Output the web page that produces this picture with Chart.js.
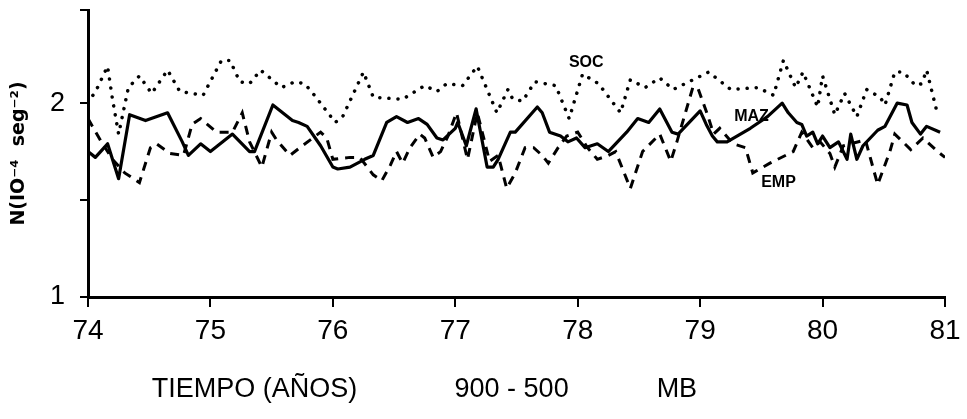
<!DOCTYPE html>
<html>
<head>
<meta charset="utf-8">
<script src="https://cdn.jsdelivr.net/npm/chart.js@4/dist/chart.umd.min.js"></script>
<style>
  body { margin: 0; background: #fff; }
  canvas { display: block; }
</style>
</head>
<body>
<canvas id="chart" width="967" height="419"></canvas>
<script>
'use strict'

// N (10^-4 seg^-2), 900-500 mb
// SOC (dotted)
let socT = [74.00, 74.07, 74.16, 74.20, 74.25, 74.33, 74.42, 74.52, 74.65, 74.75, 74.94, 75.09, 75.16, 75.24, 75.32, 75.41, 75.58, 75.69, 75.77, 75.85, 76.02, 76.08, 76.25, 76.33, 76.57, 76.75, 76.85, 76.93, 77.06, 77.18, 77.34, 77.43, 77.47, 77.55, 77.65, 77.82, 77.93, 78.04, 78.17, 78.35, 78.43, 78.55, 78.67, 78.78, 79.07, 79.25, 79.47, 79.60, 79.68, 79.78, 79.84, 79.96, 80.00, 80.10, 80.18, 80.28, 80.36, 80.47, 80.51, 80.59, 80.66, 80.76, 80.81, 80.85, 80.94];
let socN = [2.00, 2.07, 2.19, 2.02, 1.84, 2.08, 2.14, 2.05, 2.17, 2.06, 2.04, 2.22, 2.22, 2.11, 2.10, 2.17, 2.08, 2.11, 2.10, 2.04, 1.90, 1.93, 2.16, 2.03, 2.02, 2.09, 2.06, 2.10, 2.09, 2.19, 1.95, 2.07, 2.02, 2.01, 2.11, 2.09, 1.92, 2.15, 2.10, 1.95, 2.12, 2.08, 2.13, 2.07, 2.16, 2.07, 2.08, 2.04, 2.22, 2.08, 2.16, 1.98, 2.14, 1.94, 2.05, 1.93, 2.07, 2.03, 1.99, 2.16, 2.16, 2.09, 2.10, 2.17, 1.94];

// MAZ (solid)
let mazT = [74.00, 74.06, 74.16, 74.25, 74.34, 74.47, 74.65, 74.77, 74.82, 74.92, 75.00, 75.18, 75.32, 75.36, 75.51, 75.67, 75.72, 75.79, 75.90, 76.00, 76.04, 76.14, 76.26, 76.33, 76.44, 76.52, 76.61, 76.70, 76.77, 76.85, 76.90, 77.00, 77.02, 77.09, 77.17, 77.26, 77.31, 77.35, 77.45, 77.49, 77.67, 77.71, 77.77, 77.86, 77.92, 77.99, 78.06, 78.16, 78.25, 78.40, 78.49, 78.58, 78.67, 78.77, 78.82, 79.00, 79.05, 79.10, 79.14, 79.22, 79.41, 79.55, 79.67, 79.72, 79.79, 79.83, 79.87, 79.92, 79.96, 80.00, 80.06, 80.13, 80.20, 80.23, 80.28, 80.33, 80.45, 80.51, 80.61, 80.69, 80.73, 80.80, 80.85, 80.96];
let mazN = [1.75, 1.72, 1.79, 1.61, 1.94, 1.91, 1.95, 1.80, 1.73, 1.79, 1.75, 1.84, 1.75, 1.75, 1.99, 1.91, 1.90, 1.88, 1.78, 1.67, 1.66, 1.67, 1.71, 1.73, 1.90, 1.93, 1.90, 1.92, 1.89, 1.82, 1.81, 1.87, 1.90, 1.78, 1.97, 1.67, 1.67, 1.71, 1.85, 1.85, 1.98, 1.95, 1.85, 1.83, 1.80, 1.82, 1.77, 1.79, 1.75, 1.85, 1.92, 1.90, 1.97, 1.85, 1.84, 1.96, 1.89, 1.83, 1.80, 1.80, 1.87, 1.93, 2.00, 1.95, 1.90, 1.89, 1.83, 1.85, 1.79, 1.83, 1.77, 1.80, 1.71, 1.84, 1.71, 1.78, 1.86, 1.88, 2.00, 1.99, 1.90, 1.84, 1.88, 1.85];

// EMP (dashed)
let empT = [74.00, 74.10, 74.20, 74.30, 74.42, 74.51, 74.56, 74.67, 74.78, 74.85, 74.92, 75.05, 75.18, 75.26, 75.32, 75.42, 75.50, 75.54, 75.65, 75.73, 75.90, 75.95, 76.00, 76.14, 76.22, 76.33, 76.40, 76.47, 76.52, 76.57, 76.63, 76.71, 76.75, 76.82, 76.88, 76.94, 77.01, 77.10, 77.18, 77.28, 77.35, 77.42, 77.49, 77.57, 77.64, 77.71, 77.76, 77.84, 77.91, 78.00, 78.08, 78.16, 78.25, 78.31, 78.43, 78.53, 78.67, 78.76, 78.81, 78.94, 78.98, 79.06, 79.11, 79.16, 79.27, 79.37, 79.43, 79.57, 79.76, 79.83, 79.92, 79.98, 80.06, 80.10, 80.17, 80.35, 80.45, 80.55, 80.59, 80.72, 80.82, 80.94, 81.00];
let empN = [1.92, 1.81, 1.71, 1.64, 1.59, 1.77, 1.79, 1.74, 1.73, 1.89, 1.92, 1.85, 1.85, 1.95, 1.80, 1.67, 1.85, 1.81, 1.73, 1.77, 1.85, 1.82, 1.71, 1.72, 1.72, 1.63, 1.60, 1.68, 1.75, 1.69, 1.77, 1.84, 1.82, 1.72, 1.75, 1.83, 1.95, 1.71, 1.95, 1.70, 1.73, 1.56, 1.64, 1.77, 1.77, 1.73, 1.69, 1.77, 1.83, 1.85, 1.77, 1.71, 1.73, 1.75, 1.56, 1.75, 1.84, 1.70, 1.80, 2.08, 2.08, 1.94, 1.84, 1.87, 1.79, 1.77, 1.64, 1.69, 1.75, 1.85, 1.77, 1.80, 1.74, 1.67, 1.78, 1.81, 1.58, 1.75, 1.84, 1.76, 1.82, 1.75, 1.72];

let yearTicks = [74, 75, 76, 77, 78, 79, 80, 81];
let nTicks = [1, 1.5, 2, 2.48];
let nLabeled = [1, 2];

// text written on the plot: [text, year, N]
let seriesNames = [['SOC', 78.07, 2.21], ['MAZ', 79.42, 1.93], ['EMP', 79.64, 1.59]];
// axis title pieces: [text, year]
let xTitle = [['TIEMPO (AÑOS)', 75.36], ['900 - 500', 77.46], ['MB', 78.81]];

function pts(t, n) {
    return t.map((v, i) => ({ x: v, y: n[i] }));
}

const textPlugin = {
    id: 'texts',
    afterDraw(chart) {
        let ctx = chart.ctx;
        let xs = chart.scales.x;
        let ys = chart.scales.y;
        ctx.save();
        ctx.fillStyle = '#000';
        ctx.textAlign = 'center';
        ctx.textBaseline = 'middle';
        ctx.font = 'bold 16px "Liberation Sans", Arial, sans-serif';
        for (let i = 0; i < seriesNames.length; i++) {
            let s = seriesNames[i];
            ctx.fillText(s[0], xs.getPixelForValue(s[1]), ys.getPixelForValue(s[2]));
        }
        ctx.font = '27px "Liberation Sans", Arial, sans-serif';
        for (let i = 0; i < xTitle.length; i++) {
            ctx.fillText(xTitle[i][0], xs.getPixelForValue(xTitle[i][1]), chart.chartArea.bottom + 93);
        }
        ctx.restore();
    }
};

const config = {
    type: 'line',
    data: {
        datasets: [{
            label: 'SOC',
            data: pts(socT, socN),
            borderColor: '#000',
            borderWidth: 3.5,
            borderDash: [0.1, 9],
            borderCapStyle: 'round',
            pointRadius: 0,
            tension: 0
        },
        {
            label: 'MAZ',
            data: pts(mazT, mazN),
            borderColor: '#000',
            borderWidth: 3.2,
            borderJoinStyle: 'round',
            pointRadius: 0,
            tension: 0
        },
        {
            label: 'EMP',
            data: pts(empT, empN),
            borderColor: '#000',
            borderWidth: 3,
            borderDash: [9, 7],
            pointRadius: 0,
            tension: 0
        }]
    },
    options: {
        responsive: false,
        animation: false,
        events: [],
        layout: { padding: { top: 10, right: 22, bottom: 0, left: 0 } },
        plugins: {
            legend: { display: false },
            tooltip: { enabled: false }
        },
        scales: {
            x: {
                type: 'linear',
                min: 74,
                max: 81,
                afterBuildTicks: (scale) => { scale.ticks = yearTicks.map(v => ({ value: v })); },
                afterFit: (scale) => { scale.height = 122; scale.paddingLeft = 0; scale.paddingRight = 0; },
                ticks: {
                    color: '#000',
                    padding: 7,
                    maxRotation: 0,
                    font: { family: '"Liberation Sans", Arial, sans-serif', size: 28 }
                },
                grid: { drawOnChartArea: false, tickLength: 10, color: '#000', lineWidth: 2 },
                border: { color: '#000', width: 3 }
            },
            y: {
                min: 1,
                max: 2.48,
                afterBuildTicks: (scale) => { scale.ticks = nTicks.map(v => ({ value: v })); },
                afterFit: (scale) => { scale.width = 88; scale.paddingTop = 0; scale.paddingBottom = 0; },
                ticks: {
                    color: '#000',
                    padding: 15,
                    font: { family: '"Liberation Sans", Arial, sans-serif', size: 27 },
                    callback: (v) => nLabeled.includes(v) ? String(v) : ''
                },
                grid: { drawOnChartArea: false, tickLength: 8, color: '#000', lineWidth: 2 },
                border: { color: '#000', width: 3 },
                title: {
                    display: true,
                    text: 'N(IO⁻⁴  seg⁻²)',
                    color: '#000',
                    padding: { top: 8, bottom: 0 },
                    font: { family: '"DejaVu Sans", sans-serif', size: 19, weight: 'bold' }
                }
            }
        }
    },
    plugins: [textPlugin]
};

let canvas = document.getElementById('chart');
const chart = new Chart(canvas, config);
</script>
</body>
</html>
